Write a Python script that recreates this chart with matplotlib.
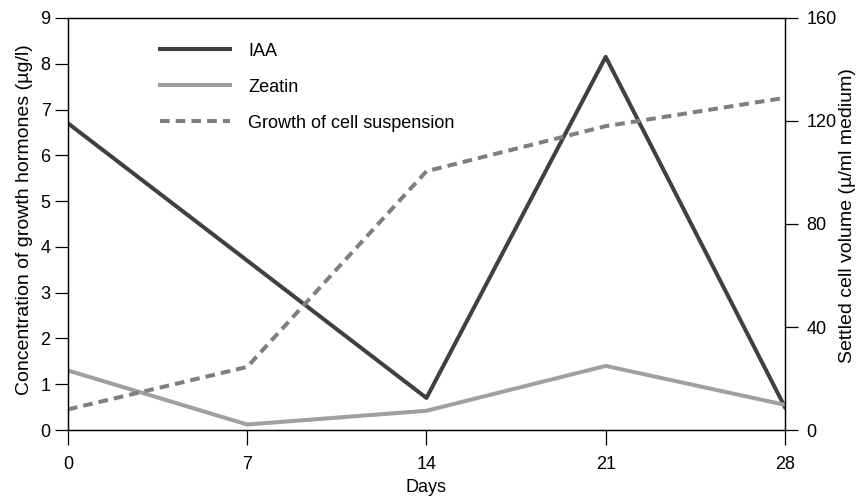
import matplotlib.pyplot as plt

days = [0, 7, 14, 21, 28]
iaa = [6.7, 3.7, 0.7, 8.15, 0.5]
zeatin = [1.3, 0.12, 0.42, 1.4, 0.55]
growth = [8, 24.5, 100.5, 118, 129]

plt.rcParams['font.family'] = ['Liberation Sans', 'DejaVu Sans']
plt.rcParams['font.size'] = 13

fig = plt.figure(figsize=(8.56, 4.97), dpi=100)
ax = fig.add_axes([0.0794, 0.1348, 0.8376, 0.829])
ax2 = ax.twinx()

l1, = ax.plot(days, iaa, color='#404040', lw=2.9, label='IAA')
l2, = ax.plot(days, zeatin, color='#a0a0a0', lw=2.9, label='Zeatin')
l3, = ax2.plot(days, growth, color='#7f7f7f', lw=2.9, ls=(0, (2.4, 1.5)),
               label='Growth of cell suspension')

ax.set_xlim(0, 28)
ax.set_ylim(0, 9)
ax2.set_ylim(0, 160)
ax.set_xticks(days)
ax.set_yticks(range(10))
ax2.set_yticks([0, 40, 80, 120, 160])

for a in (ax, ax2):
    for s in a.spines.values():
        s.set_linewidth(0.9)
ax.tick_params(axis='y', direction='out', length=9.5, width=0.9, pad=3)
ax.tick_params(axis='x', direction='out', length=11, width=0.9, pad=8)
ax2.tick_params(axis='y', direction='out', length=9.5, width=0.9, pad=6)

ax.set_xlabel('Days', labelpad=4)
ax.set_ylabel('Concentration of growth hormones (\u00b5g/l)', fontsize=14)
ax2.set_ylabel('Settled cell volume (\u00b5/ml medium)', fontsize=14)
ax.yaxis.set_label_coords(-0.049, 0.51)
ax2.yaxis.set_label_coords(1.075, 0.52)

ax.legend(handles=[l1, l2, l3], loc='upper left', bbox_to_anchor=(0.128, 0.94),
          frameon=False, handlelength=3.9, handletextpad=1.0, labelspacing=1.05,
          borderpad=0, borderaxespad=0)

fig.savefig('out.png', dpi=100)
